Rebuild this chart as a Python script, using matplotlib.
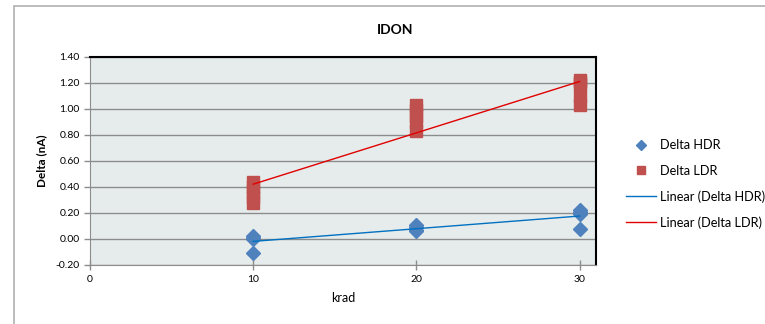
import numpy as np
import matplotlib
matplotlib.use('Agg')
import matplotlib.pyplot as plt
from matplotlib.patches import Rectangle

plt.rcParams['font.family'] = ['Lato', 'DejaVu Sans']

# data
krad = [10, 20, 30]
hdr = {10: [0.02, 0.01, 0.00, -0.11],
       20: [0.11, 0.09, 0.07, 0.06],
       30: [0.22, 0.21, 0.19, 0.08]}
ldr = {10: [0.28, 0.32, 0.36, 0.40, 0.44],
       20: [0.83, 0.90, 0.95, 0.99, 1.03],
       30: [1.03, 1.10, 1.19, 1.21, 1.22]}
yticks = [-0.2, 0.0, 0.2, 0.4, 0.6, 0.8, 1.0, 1.2, 1.4]
xticks = [0, 10, 20, 30]

hx = [k for k in krad for v in hdr[k]]
hy = [v for k in krad for v in hdr[k]]
lx = [k for k in krad for v in ldr[k]]
ly = [v for k in krad for v in ldr[k]]

fig = plt.figure(figsize=(7.65, 3.24), dpi=100)
fig.patches.append(Rectangle((14/765, -0.1), 1.2, 1 - 6/324 + 0.1, transform=fig.transFigure,
                             fill=False, edgecolor='#b0b0b0', lw=1.2))
ax = fig.add_axes([90/765, 1 - 265/324, 506/765, 208/324])
ax.set_facecolor('#e6ecec')

ax.plot(hx, hy, 'D', color='#4f81bd', ms=7, label='Delta HDR', zorder=3)
ax.plot(lx, ly, 's', color='#c0504d', ms=8.5, label='Delta LDR', zorder=3)

hp = np.polyfit(hx, hy, 1)
lp = np.polyfit(lx, ly, 1)
xs = np.array([10, 30])
ax.plot(xs, np.polyval(hp, xs), color='#0070c0', lw=1, label='Linear (Delta HDR)', zorder=4)
ax.plot(xs, np.polyval(lp, xs), color='#e00000', lw=1, label='Linear (Delta LDR)', zorder=4)

ax.set_xlim(0, 31)
ax.set_ylim(-0.2, 1.4)
ax.set_yticks(yticks)
ax.set_yticklabels(['%.2f' % v for v in yticks], fontsize=7.5)
ax.set_xticks(xticks)
ax.set_xticklabels([str(v) for v in xticks], fontsize=7.5)
ax.grid(axis='y', color='#8c8c8c', lw=1)
ax.set_axisbelow(True)
ax.tick_params(axis='both', color='#8c8c8c', length=4, width=1)
ax.tick_params(axis='x', direction='inout', length=7)
for s in ['left', 'bottom']:
    ax.spines[s].set_color('#8c8c8c')
for s in ['top', 'right']:
    ax.spines[s].set_color('black')
    ax.spines[s].set_linewidth(1.5)

ax.set_xlabel('krad', fontsize=9, labelpad=6)
ax.set_ylabel('Delta (nA)', fontsize=8.5, fontweight='bold', labelpad=6)
fig.text(395/765, 1 - 30/324, 'IDON', fontsize=10, fontweight='bold', ha='center', va='center')

fig.legend(loc='center left', bbox_to_anchor=(614/765, 1 - 184/324), frameon=False,
           fontsize=9.2, handlelength=2.4, labelspacing=1.05, handletextpad=0.3,
           markerscale=0.75)

fig.savefig('out.png', dpi=100)
